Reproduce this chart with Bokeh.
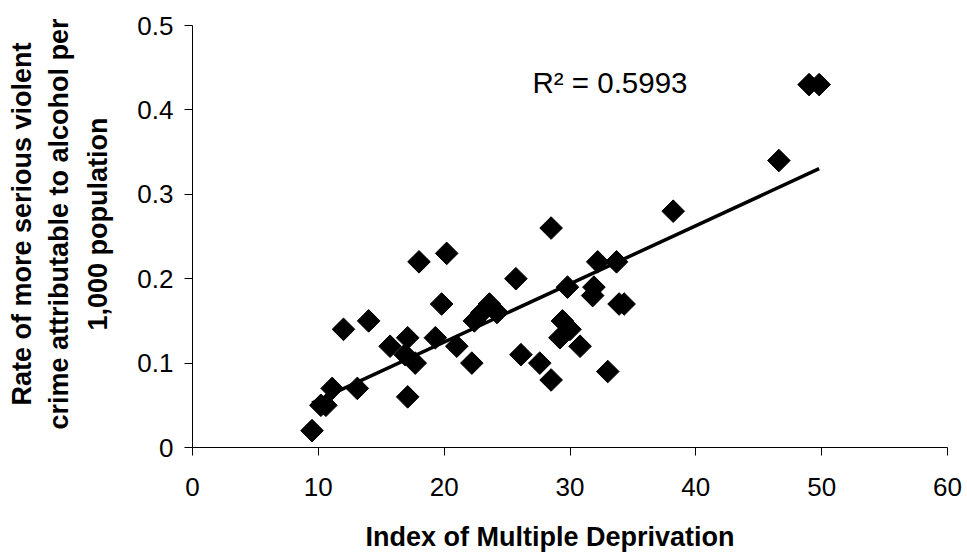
import numpy as np
from bokeh.plotting import figure
from bokeh.models import Range1d, FixedTicker, Label, Title
from bokeh.embed import file_html
from bokeh.resources import INLINE

# ---- data ----
idm = [9.5, 10.2, 10.6, 11.1, 12.0, 13.1, 14.0, 15.7, 16.9, 17.1, 17.1, 17.7,
       18.0, 19.3, 19.8, 20.2, 21.0, 22.2, 22.4, 23.0, 23.6, 24.2, 25.7, 26.1,
       27.6, 28.5, 28.5, 29.2, 29.4, 29.8, 30.0, 30.8, 31.8, 31.9, 32.2, 33.0,
       33.7, 33.9, 34.3, 38.2, 46.6, 49.0, 49.8]
rate = [0.02, 0.05, 0.05, 0.07, 0.14, 0.07, 0.15, 0.12, 0.11, 0.13, 0.06, 0.10,
        0.22, 0.13, 0.17, 0.23, 0.12, 0.10, 0.15, 0.16, 0.17, 0.16, 0.20, 0.11,
        0.10, 0.08, 0.26, 0.13, 0.15, 0.19, 0.14, 0.12, 0.18, 0.19, 0.22, 0.09,
        0.22, 0.17, 0.17, 0.28, 0.34, 0.43, 0.43]

x_ticks = [0, 10, 20, 30, 40, 50, 60]
x_tick_labels = ["0", "10", "20", "30", "40", "50", "60"]
y_ticks = [0, 0.1, 0.2, 0.3, 0.4, 0.5]
y_tick_labels = ["0", "0.1", "0.2", "0.3", "0.4", "0.5"]

r2_text = "R\u00b2 = 0.5993"
x_title = "Index of Multiple Deprivation"
y_title_lines = ["Rate of more serious violent",
                 "crime attributable to alcohol per",
                 "1,000 population"]

FONT = "Liberation Sans"

p = figure(width=967, height=553, output_backend="svg", toolbar_location=None,
           x_range=Range1d(0, 60), y_range=Range1d(0, 0.5),
           min_border_left=192, min_border_right=20,
           min_border_top=25, min_border_bottom=106)
p.outline_line_color = None
p.xgrid.visible = False
p.ygrid.visible = False
p.background_fill_color = "white"
p.border_fill_color = "white"

for ax, ticks, labels in ((p.xaxis, x_ticks, x_tick_labels),
                          (p.yaxis, y_ticks, y_tick_labels)):
    ax.ticker = FixedTicker(ticks=ticks)
    ax.major_label_overrides = {t: l for t, l in zip(ticks, labels)}
    ax.axis_line_color = "black"
    ax.axis_line_width = 1
    ax.major_tick_line_color = "black"
    ax.major_tick_in = 0
    ax.major_tick_out = 8
    ax.minor_tick_line_color = None
    ax.major_label_text_font = FONT
    ax.major_label_text_font_size = "26px"
    ax.major_label_text_color = "black"
    # blank axis label used only as spacing before the titles
    ax.axis_label = " "
    ax.axis_label_text_font_size = "1px"

p.xaxis.major_label_standoff = 22
p.yaxis.major_label_standoff = 11
p.xaxis.axis_label_standoff = 17
p.yaxis.axis_label_standoff = 14

# scatter points (diamonds)
p.scatter(idm, rate, marker="square", size=16, angle=np.pi / 4,
          fill_color="black", line_color="black")

# linear trend line
coef = np.polyfit(idm, rate, 1)
xs = np.array([min(idm), max(idm)])
p.line(xs, coef[0] * xs + coef[1], line_width=3.5, line_color="black")

# R^2 text
p.add_layout(Label(x=340, y=365, x_units="screen", y_units="screen",
                   text=r2_text, text_font=FONT, text_font_size="29.5px",
                   text_color="black", text_align="left",
                   text_baseline="alphabetic"))

# x title
p.add_layout(Title(text=x_title, align="left", offset=173,
                   vertical_align="bottom", standoff=0,
                   text_font=FONT, text_font_size="27px",
                   text_font_style="bold", text_color="black"), "below")

# y title (three lines, nearest the axis first)
for line, off, so in zip(reversed(y_title_lines), [117, 18, 42], [6.5, 6.5, 2.5]):
    p.add_layout(Title(text=line, align="left", offset=off,
                       vertical_align="bottom", standoff=so,
                       text_font=FONT, text_font_size="27px",
                       text_font_style="bold", text_color="black"), "left")

open("out.html", "w").write(file_html(p, INLINE))
